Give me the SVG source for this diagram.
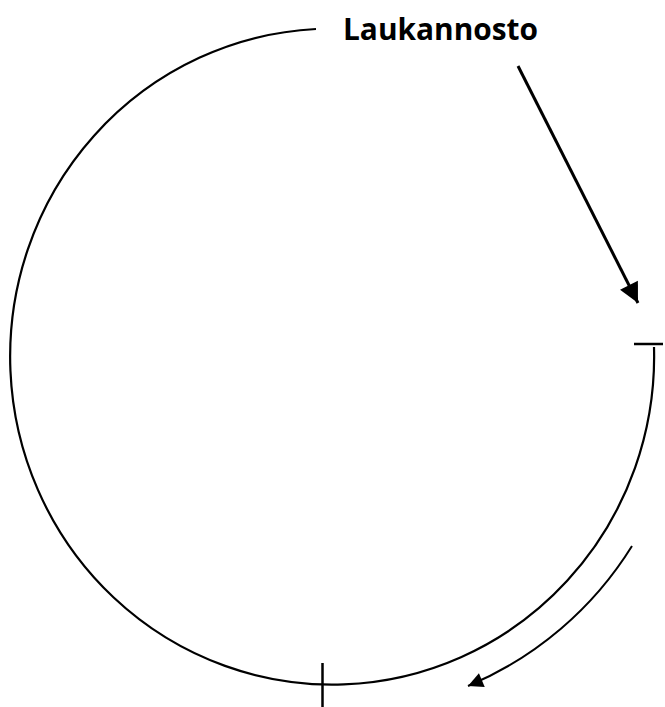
<svg xmlns="http://www.w3.org/2000/svg" width="665" height="707" viewBox="0 0 665 707">
  <style>
    .ln{fill:none;stroke:#000;stroke-linecap:butt}
    .lbl{font-family:"Open Sans","Liberation Sans",Arial,sans-serif;font-weight:bold;fill:#000}
  </style>
  <defs>
    <marker id="ah" viewBox="0 0 10 10" refX="10" refY="5" markerWidth="16" markerHeight="15" markerUnits="userSpaceOnUse" orient="auto">
      <path d="M0,0 L10,5 L0,10 Z" fill="#000"/>
    </marker>
    <marker id="ah2" viewBox="0 0 10 10" refX="10" refY="5" markerWidth="22" markerHeight="20" markerUnits="userSpaceOnUse" orient="auto">
      <path d="M0,0 L10,5 L0,10 Z" fill="#000"/>
    </marker>
  </defs>
  <rect width="665" height="707" fill="#fff"/>
  <g id="cycle">
    <path class="ln" stroke-width="2.2" d="M316,29 A322,328 0 1 0 654,347"/>
    <line class="ln" stroke-width="2.5" x1="634" y1="344" x2="663" y2="344"/>
    <line class="ln" stroke-width="2.5" x1="322.5" y1="663" x2="322.5" y2="707"/>
  </g>
  <g id="label">
    <text class="lbl" x="343" y="40" font-size="31" textLength="195" lengthAdjust="spacingAndGlyphs">Laukannosto</text>
  </g>
  <g id="connectors">
    <line class="ln" stroke-width="3" x1="518" y1="66" x2="638" y2="303" marker-end="url(#ah2)"/>
    <path class="ln" stroke-width="2" d="M632,546 A355,355 0 0 1 468,686" marker-end="url(#ah)"/>
  </g>
</svg>
